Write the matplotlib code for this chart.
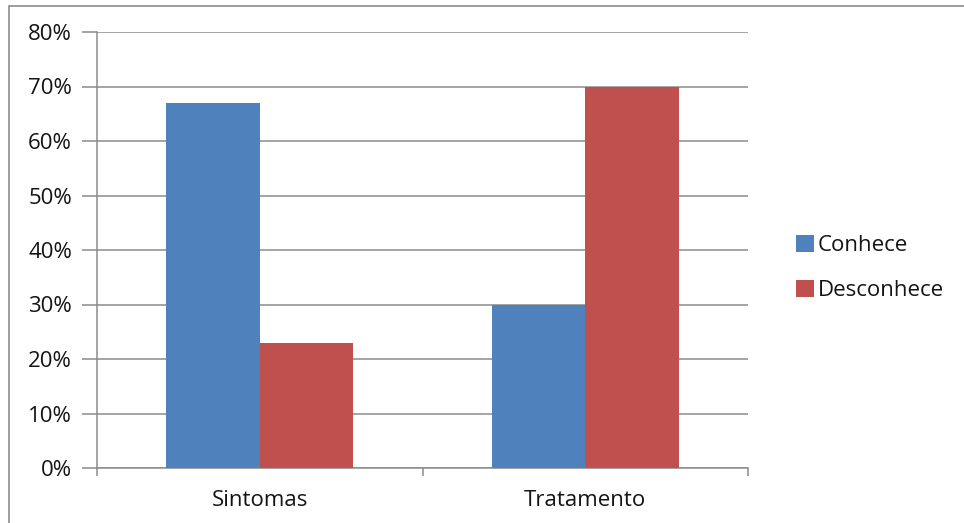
import matplotlib
matplotlib.use("Agg")
import matplotlib.pyplot as plt
from matplotlib.patches import Rectangle
from matplotlib.ticker import FixedLocator, PercentFormatter

categories = ["Sintomas", "Tratamento"]
conhece = [67, 30]
desconhece = [23, 70]
series_names = ["Conhece", "Desconhece"]
yticks = [0, 10, 20, 30, 40, 50, 60, 70, 80]

plt.rcParams['font.family'] = ['Open Sans', 'DejaVu Sans']

W, H = 964, 523
FS = 16
TXT = '#141414'
fig = plt.figure(figsize=(W/100, H/100), dpi=100)
# outer border
fig.patches.append(Rectangle((9/W, -0.1), 1.2, 1 - 6/H + 0.1, transform=fig.transFigure,
                             fill=False, edgecolor='#8c8c8c', linewidth=1.2))

ax = fig.add_axes([97/W, (H-468)/H, (748-97)/W, (468-32)/H])
x = range(len(categories))
w = 0.287
c1 = '#4F81BD'
c2 = '#C0504D'
ax.bar([i - w/2 for i in x], conhece, width=w, color=c1, label=series_names[0], zorder=3)
ax.bar([i + w/2 for i in x], desconhece, width=w, color=c2, label=series_names[1], zorder=3)

ax.set_xlim(-0.5, 1.5)
ax.set_ylim(0, 80)
ax.set_yticks(yticks)
ax.yaxis.set_major_formatter(PercentFormatter(decimals=0))
ax.grid(axis='y', color='#8c8c8c', linewidth=1.1, zorder=0)
ax.set_axisbelow(True)

ax.set_xticks(list(x))
ax.set_xticklabels(categories)
ax.xaxis.set_minor_locator(FixedLocator([-0.5, 0.5, 1.5]))
ax.tick_params(axis='x', which='major', length=0, pad=16, labelsize=FS, labelcolor=TXT)
ax.tick_params(axis='x', which='minor', length=6, width=1.1, color='#8c8c8c', direction='out')
ax.tick_params(axis='y', length=11, width=1.1, color='#8c8c8c', labelsize=FS, pad=7, labelcolor=TXT)

for s in ['top', 'right']:
    ax.spines[s].set_visible(False)
for s in ['left', 'bottom']:
    ax.spines[s].set_color('#8c8c8c')
    ax.spines[s].set_linewidth(1.1)

leg = fig.legend(loc='center left', bbox_to_anchor=(787/W, (H-268)/H), frameon=False,
                 fontsize=FS, handlelength=0.8, handleheight=0.8, handletextpad=0.2,
                 labelspacing=1.1, borderaxespad=0, labelcolor=TXT)

fig.savefig('out.png', dpi=100)
